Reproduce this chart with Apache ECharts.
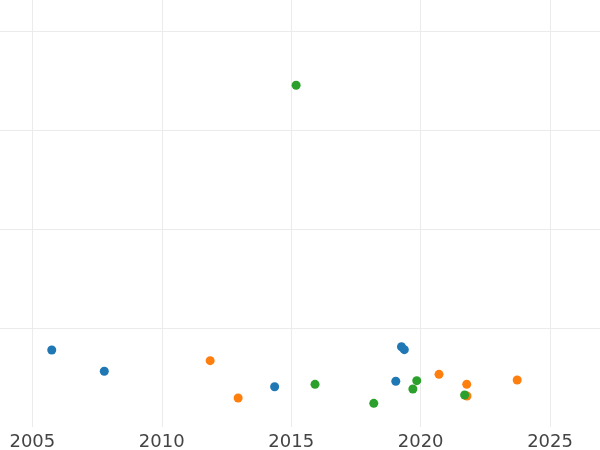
<!DOCTYPE html>
<html>
<head>
<meta charset="utf-8">
<script src="https://cdn.jsdelivr.net/npm/echarts@6/dist/echarts.min.js"></script>
<style>
  html, body { margin: 0; padding: 0; background: #fff; }
  #chart { width: 600px; height: 450px; }
</style>
</head>
<body>
<div id="chart"></div>
<script>
// year / value pairs per group
const blueYears = [2005.75, 2007.78, 2014.36, 2019.04, 2019.26, 2019.37]
const blueValues = [0.778, 0.563, 0.407, 0.462, 0.811, 0.781]

const orangeYears = [2011.87, 2012.95, 2020.71, 2021.78, 2021.79, 2023.73]
const orangeValues = [0.670, 0.293, 0.532, 0.431, 0.313, 0.475]

const greenYears = [2015.19, 2015.92, 2018.19, 2019.70, 2019.85, 2021.70]
const greenValues = [3.452, 0.431, 0.239, 0.384, 0.468, 0.323]

const colors = ['#1f77b4', '#ff7f0e', '#2ca02c']

const pairs = (xs, ys) => xs.map((x, i) => [x, ys[i]])

const chart = echarts.init(document.getElementById('chart'))

const makeSeries = (name, xs, ys, color) => ({
  name: name,
  type: 'scatter',
  symbolSize: 9,
  itemStyle: { color: color, opacity: 1 },
  data: pairs(xs, ys)
})

chart.setOption({
  animation: false,
  grid: {
    left: -97.1,
    right: -79.5,
    top: -68,
    bottom: 23,
    containLabel: false,
    outerBoundsMode: 'none'
  },
  xAxis: {
    type: 'value',
    min: 2000,
    max: 2030,
    interval: 5,
    axisLine: { show: false },
    axisTick: { show: false },
    axisLabel: {
      color: '#444',
      fontSize: 18,
      fontFamily: 'DejaVu Sans',
      margin: 6,
      formatter: value => String(value)
    },
    splitLine: {
      show: true,
      lineStyle: { color: '#ebebeb', width: 1 }
    }
  },
  yAxis: {
    type: 'value',
    min: 0,
    max: 5,
    interval: 1,
    axisLine: { show: false },
    axisTick: { show: false },
    axisLabel: { show: false },
    splitLine: {
      show: true,
      showMinLine: false,
      lineStyle: { color: '#ebebeb', width: 1 }
    }
  },
  series: [
    makeSeries('A', blueYears, blueValues, colors[0]),
    makeSeries('B', orangeYears, orangeValues, colors[1]),
    makeSeries('C', greenYears, greenValues, colors[2])
  ]
})
</script>
</body>
</html>
